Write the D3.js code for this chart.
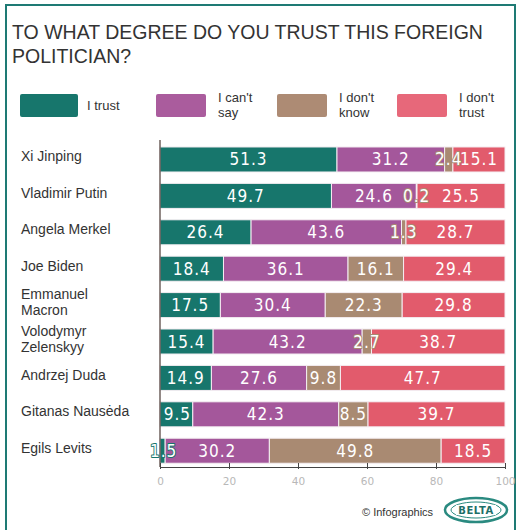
<!DOCTYPE html>
<html><head><meta charset="utf-8">
<script src="https://cdn.jsdelivr.net/npm/d3@7"></script>
<style>
body{margin:0;background:#fff;}
svg{display:block;}
</style></head>
<body>
<svg id="chart" width="518" height="530"></svg>
<script>
const title = ["TO WHAT DEGREE DO YOU TRUST THIS FOREIGN", "POLITICIAN?"];
const categories = ["Xi Jinping","Vladimir Putin","Angela Merkel","Joe Biden","Emmanuel Macron","Volodymyr Zelenskyy","Andrzej Duda","Gitanas Nausėda","Egils Levits"];
const categoryLines = [["Xi Jinping"],["Vladimir Putin"],["Angela Merkel"],["Joe Biden"],["Emmanuel","Macron"],["Volodymyr","Zelenskyy"],["Andrzej Duda"],["Gitanas Nausėda"],["Egils Levits"]];
const seriesNames = ["I trust","I can't say","I don't know","I don't trust"];
const seriesLegendLines = [["I trust"],["I can't","say"],["I don't","know"],["I don't","trust"]];
const trust    = [51.3, 49.7, 26.4, 18.4, 17.5, 15.4, 14.9, 9.5, 1.5];
const cantSay  = [31.2, 24.6, 43.6, 36.1, 30.4, 43.2, 27.6, 42.3, 30.2];
const dontKnow = [2.4, 0.2, 1.3, 16.1, 22.3, 2.7, 9.8, 8.5, 49.8];
const dontTrust= [15.1, 25.5, 28.7, 29.4, 29.8, 38.7, 47.7, 39.7, 18.5];
const tickValues = [0, 20, 40, 60, 80, 100];
const colors = ["#17766c", "#a4579b", "#a98a72", "#e25b6c"];
const legendColors = ["#17766c", "#aa5c9d", "#ad8b74", "#e7687a"];

const svg = d3.select("#chart");
svg.append("rect").attr("x",0).attr("y",0).attr("width",518).attr("height",530).attr("fill","#fff");
// frame
svg.append("rect").attr("x",6).attr("y",5).attr("width",509).attr("height",540)
  .attr("fill","none").attr("stroke","#1e7a74").attr("stroke-width",2);

// title
svg.append("g").selectAll("text").data(title).join("text")
  .attr("x",12).attr("y",(d,i)=>39+i*24)
  .attr("font-family","Liberation Sans, Arial, sans-serif").attr("font-size",19.5)
  .attr("fill","#333").text(d=>d);

// legend
const legendX = [20, 156, 277, 397];
const lg = svg.append("g");
seriesNames.forEach((s,i)=>{
  lg.append("rect").attr("x",legendX[i]).attr("y",94).attr("width",i===0?58:50).attr("height",23)
    .attr("rx",2).attr("fill",legendColors[i]);
  const lines = seriesLegendLines[i];
  const tx = legendX[i] + (i===0?67:62);
  lines.forEach((l,j)=>{
    lg.append("text").attr("x",tx).attr("y", lines.length===1 ? 110 : 102 + j*15)
      .attr("font-family","Liberation Sans, Arial, sans-serif").attr("font-size",13)
      .attr("fill","#333").text(l);
  });
});

const x = d3.scaleLinear().domain([0,100]).range([160,505]);
const y = d3.scaleBand().domain(categories).range([140.6,469.6]).paddingInner(0.313).paddingOuter(0.175);

// category labels
const cg = svg.append("g");
categories.forEach((c,i)=>{
  const lines = categoryLines[i];
  const cy = y(c) + y.bandwidth()/2;
  lines.forEach((l,j)=>{
    cg.append("text").attr("x",21)
      .attr("y", lines.length===1 ? cy+2 : cy - 6 + j*16)
      .attr("font-family","Liberation Sans, Arial, sans-serif").attr("font-size",14)
      .attr("fill","#333").text(l);
  });
});

// stack data
const table = categories.map((c,i)=>({cat:c, s0:trust[i], s1:cantSay[i], s2:dontKnow[i], s3:dontTrust[i]}));
const stack = d3.stack().keys(["s0","s1","s2","s3"])(table);

const bars = svg.append("g");
stack.forEach((layer,k)=>{
  bars.append("g").selectAll("rect").data(layer).join("rect")
    .attr("x",d=>x(d[0])).attr("y",d=>y(d.data.cat))
    .attr("width",d=>x(d[1])-x(d[0])).attr("height",y.bandwidth())
    .attr("fill",colors[k]).attr("stroke","#f4eef2").attr("stroke-width",1);
});

// axes lines
svg.append("line").attr("x1",160).attr("x2",160).attr("y1",140).attr("y2",467)
  .attr("stroke","#4a3a35").attr("stroke-width",1.2);
const xAxis = d3.axisBottom(x).tickValues(tickValues).tickSize(0).tickPadding(11);
const ax = svg.append("g").attr("transform","translate(0,467)").call(xAxis);
ax.select(".domain").attr("stroke","#444").attr("stroke-width",1.2);
ax.selectAll(".tick text").attr("fill","#b8b8b8").attr("font-size",10.5)
  .attr("font-family","DejaVu Sans, sans-serif");
ax.selectAll(".tick").append("line").attr("y1",-4).attr("y2",2).attr("stroke","#444");

// value labels
const lab = svg.append("g");
stack.forEach((layer,k)=>{
  layer.forEach(d=>{
    const v = d[1]-d[0];
    const w = x(d[1])-x(d[0]);
    const small = w < 34;
    const t = lab.append("text")
      .attr("x",(x(d[0])+x(d[1]))/2 + (small && k===0 ? 1 : 0))
      .attr("y",y(d.data.cat)+y.bandwidth()/2+6)
      .attr("text-anchor","middle")
      .attr("font-family","DejaVu Sans Condensed, DejaVu Sans, sans-serif")
      .attr("font-size",17).attr("letter-spacing",1)
      .attr("fill","#fff").text(v.toFixed(1));
    if (small) {
      t.attr("stroke", colors[k]).attr("stroke-width",1.8).attr("paint-order","stroke")
        .attr("stroke-linejoin","round");
    }
  });
});

// footer
svg.append("text").attr("x",362).attr("y",516)
  .attr("font-family","Liberation Sans, Arial, sans-serif").attr("font-size",11)
  .attr("fill","#333").text("© Infographics");
const logo = svg.append("g").attr("transform","translate(476,510)");
logo.append("ellipse").attr("rx",31).attr("ry",12).attr("fill","#fff").attr("stroke","#2a8a80").attr("stroke-width",2.5);
logo.append("ellipse").attr("rx",25).attr("ry",8).attr("fill","none").attr("stroke","#2a8a80").attr("stroke-width",1);
logo.append("rect").attr("x",-20).attr("y",-5).attr("width",40).attr("height",10).attr("fill","#fff");
logo.append("text").attr("y",4).attr("text-anchor","middle")
  .attr("font-family","DejaVu Sans, sans-serif").attr("font-weight","bold").attr("font-size",10)
  .attr("fill","#1e6f68").attr("letter-spacing",0.5).text("BELTA");
</script>
</body></html>
